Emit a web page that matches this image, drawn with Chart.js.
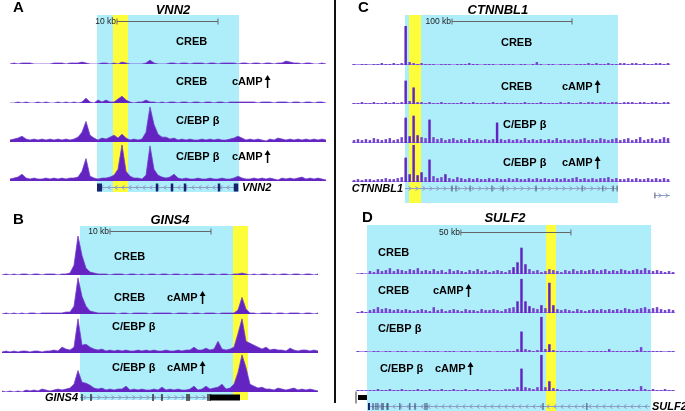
<!DOCTYPE html>
<html>
<head>
<meta charset="utf-8">
<script src="https://cdn.jsdelivr.net/npm/chart.js@4.4.1/dist/chart.umd.min.js"></script>
<style>
  html, body { margin: 0; padding: 0; background: #fff; }
  #wrap { position: relative; width: 685px; height: 411px; overflow: hidden; }
  #wrap canvas { position: absolute; }
  #divider { position: absolute; left: 334px; top: 0; width: 2px; height: 403px; background: #111; }
</style>
</head>
<body>
<div id="wrap">
  <canvas id="pA" width="334" height="200" style="left:0;top:0"></canvas>
  <canvas id="pB" width="334" height="211" style="left:0;top:200px"></canvas>
  <canvas id="pC" width="345" height="205" style="left:340px;top:0"></canvas>
  <canvas id="pD" width="345" height="211" style="left:340px;top:200px"></canvas>
  <div id="divider"></div>
</div>
<script>
/* ChIP-seq browser tracks, 4 panels (CREB / C-EBPb, +/- cAMP).
 * One chart per panel, one stacked hidden y axis per track, 80 bins per track.
 */

// ---- panel A: VNN2 ----
const vnn2Creb = [
  0,1,0,1,1,1,0,0,0,0,0,1,1,1,0,1,1,1,2,1,
  0,0,0,1,1,0,1,0,2,1,0,0,0,0,1,4,1,0,0,0,
  1,1,0,1,1,0,1,1,1,0,1,1,0,1,1,1,1,0,1,1,
  0,1,1,0,1,1,0,1,1,3,2,1,1,0,1,1,0,0,1,0];
const vnn2CrebCamp = [
  0,0,1,0,1,0,0,1,0,1,0,0,1,0,1,0,1,0,1,5,
  1,0,3,1,3,1,1,4,7,3,1,0,1,1,3,1,1,0,1,0,
  1,1,0,1,1,0,1,1,0,1,1,0,1,1,0,1,1,1,1,1,
  1,1,0,1,1,1,0,1,1,1,0,1,1,0,1,1,0,1,1,0];
const vnn2Cebpb = [
  2,3,4,6,3,2,3,2,3,2,3,2,3,2,3,2,3,5,10,21,
  7,4,2,4,3,5,7,4,8,4,2,3,2,3,10,36,18,8,5,5,
  3,4,2,3,2,3,2,2,3,2,3,2,3,2,2,3,4,6,4,2,
  3,2,3,2,1,3,2,4,3,2,3,2,3,2,3,2,3,2,3,2];
const vnn2CebpbCamp = [
  2,3,4,7,3,2,3,2,2,3,2,3,2,3,2,3,3,4,10,23,
  5,3,2,3,3,4,6,12,37,10,5,3,3,2,6,36,12,6,4,3,
  4,7,3,2,3,2,2,3,2,2,3,2,2,3,2,2,3,5,3,2,
  2,3,2,3,2,3,2,1,3,2,3,2,3,4,2,3,2,3,2,1];
const vnn2Exons = [36.75, 40.5, 43.75, 52.25, 56.25, 56.75];

// ---- panel B: GINS4 ----
const gins4Creb = [
  0,1,0,1,0,1,1,0,1,1,0,1,1,1,0,1,1,2,10,40,
  20,7,3,2,1,1,1,0,1,1,1,0,1,1,0,1,0,1,1,0,
  1,1,0,1,1,0,1,0,1,1,1,0,1,1,0,1,1,0,1,1,
  2,1,0,1,0,1,1,0,1,0,1,1,0,1,1,0,1,1,0,1];
const gins4CrebCamp = [
  0,1,0,1,0,1,0,1,1,0,1,1,1,1,1,1,2,2,8,37,
  18,8,3,2,1,1,1,1,1,0,1,1,0,1,1,1,1,0,1,1,
  1,1,1,0,1,1,1,0,1,1,0,1,1,1,0,1,1,1,1,4,
  17,5,1,1,0,1,1,1,0,1,1,0,1,1,1,0,1,1,0,1];
const gins4Cebpb = [
  1,2,1,2,1,2,2,1,2,2,1,2,2,3,2,6,4,3,6,35,
  8,9,6,4,3,4,2,3,2,3,2,3,2,2,3,2,3,2,3,2,
  2,3,2,2,3,2,3,3,6,3,3,5,3,4,12,4,3,4,6,20,
  35,12,10,8,6,4,6,3,4,3,3,2,5,3,2,3,3,2,3,2];
const gins4CebpbCamp = [
  1,0,1,0,1,0,2,1,2,1,3,2,1,2,3,2,3,4,8,22,
  10,9,7,4,3,4,2,3,2,3,3,6,2,3,2,3,2,2,3,2,
  5,2,3,2,3,2,2,3,6,2,3,6,3,4,5,8,3,4,8,20,
  38,25,8,6,4,5,3,3,2,4,3,2,3,4,2,3,2,3,2,1];
const gins4Exons = [20, 22.25, 37.75, 40, 46.25, 46.75, 51.5, 52];

// ---- panel C: CTNNBL1 ----
const ctnnbl1Creb = [
  1,0,1,1,0,1,1,2,1,1,2,1,2,40,3,2,1,2,1,1,
  1,0,1,1,1,0,1,1,1,2,1,1,0,1,1,1,0,1,1,1,
  1,0,1,1,0,1,3,1,0,1,1,0,1,1,1,0,1,1,1,2,
  1,2,1,1,2,1,1,2,2,1,2,2,1,2,1,1,2,2,1,2];
const ctnnbl1CrebCamp = [
  1,1,2,1,1,2,1,1,2,1,2,1,2,24,3,17,2,2,1,2,
  1,1,2,1,1,1,1,2,1,1,2,1,1,1,1,2,1,1,2,1,
  1,1,1,2,1,1,1,2,1,1,1,1,2,1,2,1,1,2,1,2,
  2,1,2,2,1,2,2,1,2,2,2,1,2,2,1,2,2,1,2,2];
const ctnnbl1Cebpb = [
  3,4,3,4,3,5,4,3,4,5,3,4,6,26,7,28,8,6,5,24,
  6,4,5,3,4,5,3,4,3,5,3,4,3,4,3,4,21,4,3,4,
  3,4,3,5,3,4,3,4,3,4,3,5,3,4,3,4,3,4,5,3,
  4,3,5,4,3,4,5,3,4,5,3,4,6,3,4,5,3,4,6,5];
const ctnnbl1CebpbCamp = [
  2,3,2,3,3,2,3,3,4,3,3,4,5,25,8,38,7,10,5,23,
  6,4,5,8,4,3,5,4,3,4,3,4,3,3,4,3,4,3,3,4,
  3,4,3,3,4,3,4,3,4,3,3,4,3,4,3,4,5,3,4,3,
  4,3,4,4,5,3,4,3,3,4,3,4,3,3,4,3,4,3,4,3];
const ctnnbl1Exons = [24.66, 25.66, 29.2, 34.7, 37.5, 45.8, 57.4, 62.6, 65.2, 66.2];

// ---- panel D: SULF2 ----
const sulf2Creb = [
  0,1,0,3,2,5,3,4,6,3,5,4,3,5,4,6,3,4,3,5,
  3,4,2,5,3,4,3,2,4,3,5,3,4,2,3,4,3,2,4,7,
  12,27,10,5,3,4,2,3,5,4,3,2,4,3,5,3,4,3,4,5,
  3,4,5,3,4,3,5,4,3,4,5,4,6,4,3,4,3,2,3,2];
const sulf2CrebCamp = [
  1,2,1,3,4,6,4,5,4,3,4,3,4,3,2,3,4,3,2,6,
  3,4,2,3,4,3,2,4,3,3,2,4,3,3,4,3,2,4,5,6,
  12,35,12,7,5,4,8,5,31,8,4,3,4,3,2,4,3,2,3,4,
  3,4,3,4,3,4,3,5,4,3,4,5,6,4,5,6,4,3,4,3];
const sulf2Cebpb = [
  1,0,1,0,1,1,0,1,1,0,1,1,1,0,1,1,0,1,1,1,
  1,0,1,1,1,0,1,1,1,0,1,1,1,1,0,1,1,1,1,1,
  3,21,3,2,1,2,36,3,8,2,1,1,1,1,1,1,1,0,1,1,
  1,1,1,3,1,1,1,1,1,1,2,5,1,1,1,1,1,0,1,1];
const sulf2CebpbCamp = [
  1,1,1,1,1,2,1,1,2,1,1,2,1,1,1,2,1,1,2,1,
  1,2,1,1,2,1,1,2,1,1,2,1,1,2,1,1,1,2,2,2,
  4,23,4,3,2,4,37,4,10,3,2,1,1,2,1,1,2,1,1,2,
  1,2,1,2,1,2,1,1,2,2,1,5,2,1,2,1,1,2,1,1];
const sulf2Exons = [3.76, 4.5, 5.0, 6.0, 6.3, 7.3, 7.5, 10.5, 13.0, 14.3, 16.8, 17.3, 46.4, 57.4];

const CYAN = "#aeeefb", YELLOW = "#fdfd3c";
const SIGNAL = "#6424c2", SIGNAL_LIGHT = "#7443cf", SIGNAL_EDGE = "rgba(110,60,205,0.75)", BASELINE = "#a993e3";
const FONT = '"Liberation Sans", Arial, sans-serif';

const PANELS = [
  { canvas:"pA", mark:"line", letter:"A", letterX:13, letterY:8, title:"VNN2", titleX:40.75, titleY:-15,
    tracks:[vnn2Creb, vnn2CrebCamp, vnn2Cebpb, vnn2CebpbCamp],
    pad:{left:8, right:6, top:25, bottom:7},
    cyan:[21.75,57.25], yellow:[25.75,29.5], bgTop:-10, bgBottom:-1,
    bar:[26.75,52], barLabel:"10 kb", barY:-4,
    labels:[
      {t:0, text:"CREB", x:41.5, dy:22},
      {t:1, text:"CREB", x:41.5, dy:21}, {t:1, text:"cAMP", x:55.5, dy:21, arrow:true},
      {t:2, text:"C/EBP β", x:41.5, dy:21},
      {t:3, text:"C/EBP β", x:41.5, dy:24}, {t:3, text:"cAMP", x:55.5, dy:24, arrow:true}],
    geneWeight:12, geneDy:6, span:[21.75,56.75], exons:vnn2Exons, dir:-1,
    exonW:2.5, exonH:8, exonColor:"#16226e",
    blocks:[{from:21.75, to:23, h:8, color:"#16226e"}],
    geneLabel:"VNN2", geneLabelX:58, geneAlign:"left" },
  { canvas:"pB", mark:"line", letter:"B", letterX:13, letterY:20, title:"GINS4", titleX:42, titleY:-16,
    tracks:[gins4Creb, gins4CrebCamp, gins4Cebpb, gins4CebpbCamp],
    pad:{left:0, right:14, top:36, bottom:8},
    cyan:[19.5,57.75], yellow:[57.75,61.5], bgTop:-10, bgBottom:-3,
    bar:[27,52.25], barLabel:"10 kb", barY:-5,
    labels:[
      {t:0, text:"CREB", x:28, dy:18},
      {t:1, text:"CREB", x:28, dy:16}, {t:1, text:"cAMP", x:41.25, dy:16, arrow:true},
      {t:2, text:"C/EBP β", x:27.5, dy:26},
      {t:3, text:"C/EBP β", x:27.5, dy:24}, {t:3, text:"cAMP", x:41.25, dy:24, arrow:true}],
    geneWeight:11, geneDy:5, span:[19.5,59.5], exons:gins4Exons, dir:1,
    exonW:1.5, exonH:7, exonColor:"#333",
    blocks:[{from:52, to:59.5, h:6, color:"#000"}],
    geneLabel:"GINS4", geneLabelX:19, geneAlign:"right" },
  { canvas:"pC", mark:"bar", letter:"C", letterX:18, letterY:8, title:"CTNNBL1", titleX:36.2, titleY:-16,
    tracks:[ctnnbl1Creb, ctnnbl1CrebCamp, ctnnbl1Cebpb, ctnnbl1CebpbCamp],
    pad:{left:12, right:15, top:26, bottom:11},
    cyan:[12.83,66.4], yellow:[13.84,16.86], bgTop:-11, bgBottom:9,
    bar:[24.66,54.85], barLabel:"100 kb", barY:-5,
    labels:[
      {t:0, text:"CREB", x:36.98, dy:22},
      {t:1, text:"CREB", x:36.98, dy:17}, {t:1, text:"cAMP", x:52.33, dy:17, arrow:true},
      {t:2, text:"C/EBP β", x:37.49, dy:18},
      {t:3, text:"C/EBP β", x:37.49, dy:19}, {t:3, text:"cAMP", x:52.33, dy:19, arrow:true}],
    geneWeight:12, geneDy:6, span:[12.83,66.2], exons:ctnnbl1Exons, dir:1,
    exonW:1, exonH:6, exonColor:"#4e5570", blocks:[],
    extraGene:{span:[75.7,79.5], dy:7},
    geneLabel:"CTNNBL1", geneLabelX:12.33, geneAlign:"right" },
  { canvas:"pD", mark:"bar", letter:"D", letterX:22, letterY:18, title:"SULF2", titleX:36.87, titleY:-17,
    tracks:[sulf2Creb, sulf2CrebCamp, sulf2Cebpb, sulf2CebpbCamp],
    pad:{left:16, right:10, top:35, bottom:1},
    cyan:[2.26,73.5], yellow:[47.15,49.66], bgTop:-10, bgBottom:1,
    bar:[25.8,53.4], barLabel:"50 kb", barY:-3,
    labels:[
      {t:0, text:"CREB", x:5.02, dy:21},
      {t:1, text:"CREB", x:5.02, dy:22}, {t:1, text:"cAMP", x:18.8, dy:22, arrow:true},
      {t:2, text:"C/EBP β", x:5.02, dy:23},
      {t:3, text:"C/EBP β", x:5.5, dy:22}, {t:3, text:"cAMP", x:19.3, dy:22, arrow:true}],
    geneWeight:19, geneDy:15, span:[2.5,73.2], exons:sulf2Exons, dir:-1,
    exonW:1, exonH:7, exonColor:"#3c4a78",
    blocks:[{from:2.5, to:3.0, h:7, color:"#16226e"}, {from:0, to:2.26, h:5, color:"#000", dy:-9}],
    geneLabel:"SULF2", geneLabelX:73.73, geneAlign:"left" }
];

function upArrow(ctx, x, y){
  ctx.lineWidth = 1.5;
  ctx.beginPath(); ctx.moveTo(x, y+6); ctx.lineTo(x, y-3); ctx.stroke();
  ctx.beginPath(); ctx.moveTo(x-3, y-2); ctx.lineTo(x, y-7); ctx.lineTo(x+3, y-2); ctx.closePath(); ctx.fill();
}

function chevrons(ctx, x0, x1, y, dir){
  ctx.beginPath();
  for (let cx = x0 + 5; cx < x1 - 3; cx += 7){
    ctx.moveTo(cx - 1.5*dir, y - 2); ctx.lineTo(cx + 1.5*dir, y); ctx.lineTo(cx - 1.5*dir, y + 2);
  }
  ctx.stroke();
}

function decorPlugin(p){
  return {
    id: "decor",
    beforeDatasetsDraw(chart){
      const ctx = chart.ctx, a = chart.chartArea, X = v => chart.scales.x.getPixelForValue(v);
      const top = a.top + p.bgTop, bot = a.bottom + p.bgBottom;
      ctx.save();
      ctx.fillStyle = CYAN;
      ctx.fillRect(X(p.cyan[0]), top, X(p.cyan[1]) - X(p.cyan[0]), bot - top);
      ctx.fillStyle = YELLOW;
      ctx.fillRect(X(p.yellow[0]), top, X(p.yellow[1]) - X(p.yellow[0]), bot - top);
      if (p.mark === "bar"){
        // thin baseline under the bar tracks
        ctx.strokeStyle = BASELINE; ctx.lineWidth = 1;
        p.tracks.forEach((_, k) => {
          const y = Math.round(chart.scales["t" + k].bottom) - 0.5;
          ctx.beginPath(); ctx.moveTo(a.left, y); ctx.lineTo(a.right, y); ctx.stroke();
        });
      }
      ctx.restore();
    },
    afterDatasetsDraw(chart){
      const ctx = chart.ctx, a = chart.chartArea, X = v => chart.scales.x.getPixelForValue(v);
      ctx.save();
      // panel letter + gene title
      ctx.fillStyle = "#000";
      ctx.textBaseline = "middle";
      ctx.font = "bold 15px " + FONT;
      ctx.textAlign = "left";
      ctx.fillText(p.letter, p.letterX, p.letterY);
      ctx.font = "italic bold 13px " + FONT;
      ctx.textAlign = "center";
      ctx.fillText(p.title, X(p.titleX), a.top + p.titleY);

      // scale bar
      const by = Math.round(a.top + p.barY) + 0.5, b0 = X(p.bar[0]), b1 = X(p.bar[1]);
      ctx.strokeStyle = "#666"; ctx.lineWidth = 1;
      ctx.beginPath();
      ctx.moveTo(b0, by); ctx.lineTo(b1, by);
      ctx.moveTo(b0, by - 3); ctx.lineTo(b0, by + 3);
      ctx.moveTo(b1, by - 3); ctx.lineTo(b1, by + 3);
      ctx.stroke();
      ctx.font = "8.5px " + FONT; ctx.fillStyle = "#222"; ctx.textAlign = "right";
      ctx.fillText(p.barLabel, b0 - 1, by);

      // track labels
      ctx.font = "bold 11px " + FONT; ctx.fillStyle = "#000"; ctx.strokeStyle = "#000";
      ctx.textAlign = "left";
      p.labels.forEach(l => {
        const y = chart.scales["t" + l.t].bottom - l.dy, x = X(l.x);
        ctx.fillText(l.text, x, y);
        if (l.arrow) upArrow(ctx, x + ctx.measureText(l.text).width + 5, y);
      });

      // gene model
      const gy = Math.round(chart.scales.gene.top + p.geneDy) + 0.5;
      const g0 = X(p.span[0]), g1 = X(p.span[1]);
      ctx.strokeStyle = "#8c9dc6"; ctx.lineWidth = 1;
      ctx.beginPath(); ctx.moveTo(g0, gy); ctx.lineTo(g1, gy); ctx.stroke();
      chevrons(ctx, g0, g1, gy, p.dir);
      if (p.extraGene){
        const ey = gy + p.extraGene.dy, e0 = X(p.extraGene.span[0]), e1 = X(p.extraGene.span[1]);
        ctx.beginPath(); ctx.moveTo(e0, ey); ctx.lineTo(e1, ey); ctx.stroke();
        chevrons(ctx, e0, e1 + 4, ey, 1);
        ctx.fillStyle = p.exonColor; ctx.fillRect(e0 - 0.5, ey - 3, 1, 6);
      }
      ctx.fillStyle = p.exonColor;
      p.exons.forEach(e => ctx.fillRect(X(e) - p.exonW/2, gy - p.exonH/2, p.exonW, p.exonH));
      p.blocks.forEach(b => {
        const cy = gy + (b.dy || 0);
        ctx.fillStyle = b.color;
        ctx.fillRect(X(b.from), cy - b.h/2, Math.max(1.5, X(b.to) - X(b.from)), b.h);
        if (b.dy){
          ctx.strokeStyle = "#333";
          ctx.beginPath(); ctx.moveTo(X(b.from) - 2, cy - 6); ctx.lineTo(X(b.from) - 2, cy + 6); ctx.stroke();
        }
      });
      ctx.font = "italic bold 11px " + FONT; ctx.fillStyle = "#000";
      ctx.textAlign = p.geneAlign;
      ctx.fillText(p.geneLabel, X(p.geneLabelX), gy);
      ctx.restore();
    }
  };
}

function mount(p){
  const scales = {
    x: { type:"category", labels: p.tracks[0].map((_, i) => String(i)), offset:true, display:false }
  };
  p.tracks.forEach((_, k) => {
    scales["t" + k] = { type:"linear", position:"left", stack:"tracks", stackWeight:39,
      weight: 10 - k, min:0, max:40, display:false };
  });
  scales.gene = { type:"linear", position:"left", stack:"tracks", stackWeight:p.geneWeight,
    weight: 1, min:0, max:10, display:false };

  const isBar = p.mark === "bar";
  new Chart(document.getElementById(p.canvas), {
    type: isBar ? "bar" : "line",
    data: {
      labels: scales.x.labels,
      datasets: p.tracks.map((vals, k) => isBar ? {
        data: vals, yAxisID: "t" + k, borderWidth: 0,
        backgroundColor: c => (c.raw > 6 ? SIGNAL : SIGNAL_LIGHT),
        barPercentage: 0.62, categoryPercentage: 1, grouped: false
      } : {
        data: vals, yAxisID: "t" + k,
        borderColor: SIGNAL_EDGE, borderWidth: 1, backgroundColor: SIGNAL,
        fill: "origin", pointRadius: 0, tension: 0
      })
    },
    options: {
      responsive: false, animation: false, devicePixelRatio: 1,
      layout: { padding: p.pad },
      plugins: { legend:{display:false}, tooltip:{enabled:false}, title:{display:false} },
      scales
    },
    plugins: [decorPlugin(p)]
  });
}

PANELS.forEach(mount);
</script>
</body>
</html>
